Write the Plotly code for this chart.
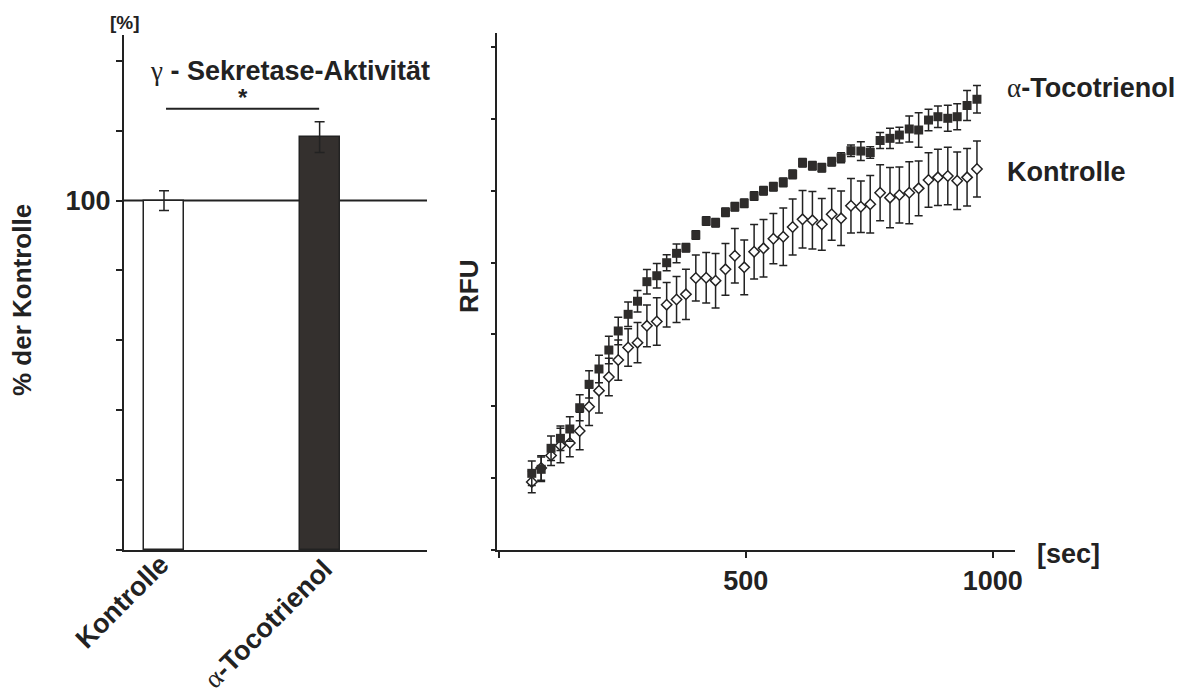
import plotly.graph_objects as go

# ---------------- left panel data ----------------
categories = ["Kontrolle", "α-Tocotrienol"]
bar_values = [100, 118.2]
bar_errors = [2.8, 4.4]
bar_colors = ["#ffffff", "#34302e"]

# ---------------- right panel data ----------------
time_sec = [67, 86, 106, 125, 144, 164, 183, 203, 223, 242, 262, 281, 300, 320, 340, 360,
            379, 399, 420, 439, 459, 478, 497, 517, 536, 556, 576, 595, 615, 635, 654, 674,
            693, 713, 733, 752, 772, 792, 811, 831, 850, 870, 889, 909, 928, 948, 968]

toco_rfu = [1067, 1123, 1415, 1554, 1684, 1980, 2306, 2519, 2783, 3048, 3280, 3462, 3734, 3817,
            3998, 4129, 4207, 4384, 4578, 4555, 4700, 4777, 4825, 4926, 5000, 5056, 5117, 5228,
            5390, 5348, 5320, 5404, 5459, 5557, 5552, 5532, 5699, 5729, 5775, 5859, 5845, 5984,
            6030, 6008, 6030, 6186, 6273]
toco_err = [170, 170, 170, 170, 170, 180, 190, 190, 190, 190, 170, 150, 170, 170, 110, 130,
            60, 60, 60, 60, 60, 60, 60, 60, 60, 60, 60, 60, 60, 60, 60, 60,
            70, 80, 130, 80, 110, 140, 110, 180, 240, 150, 150, 180, 180, 210, 190]

ctrl_rfu = [946, 1141, 1315, 1454, 1489, 1656, 1994, 2217, 2407, 2644, 2818, 2885, 3120, 3180,
            3414, 3486, 3558, 3785, 3789, 3748, 3906, 4095, 3934, 4151, 4198, 4332, 4360, 4495,
            4602, 4588, 4533, 4672, 4616, 4791, 4777, 4812, 4972, 4903, 4940, 4972, 5033, 5149,
            5186, 5205, 5139, 5186, 5302]
ctrl_err = [150, 170, 140, 240, 190, 260, 260, 310, 260, 280, 260, 280, 290, 330, 310, 320,
            350, 320, 350, 380, 360, 380, 380, 380, 400, 350, 400, 390, 400, 400, 360, 360,
            380, 380, 360, 400, 390, 420, 390, 430, 380, 380, 390, 400, 400, 400, 390]

left_yticks = [0, 20, 40, 60, 80, 100, 120, 140]
left_yticktext = ["", "", "", "", "", "100", "", ""]
right_yticks = [0, 1000, 2000, 3000, 4000, 5000, 6000, 7000]
right_xticks = [0, 500, 1000]
right_xticktext = ["", "500", "1000"]

INK = "#222222"
SANS = "Liberation Sans"
SERIF = "Liberation Serif"
OFF = 8                      # default page-body margin of the written HTML
W, H = 1184 - OFF, 691 - OFF


def px(x):
    return (x - OFF) / W


def py(y):
    return 1 - (y - OFF) / H


def greek(ch):
    return "<span style='font-family:%s;font-weight:normal'>%s</span>" % (SERIF, ch)


def label(name):
    if name.startswith("α"):
        return greek("α") + "<b>" + name[1:] + "</b>"
    return "<b>" + name + "</b>"


fig = go.Figure()

# bars
fig.add_trace(go.Bar(
    x=[0, 1], y=bar_values,
    width=0.257,
    marker=dict(color=bar_colors, line=dict(color=INK, width=1.5)),
    error_y=dict(type="data", array=bar_errors, color=INK, thickness=1.5, width=5),
    xaxis="x", yaxis="y", showlegend=False,
))

# control (open diamonds)
fig.add_trace(go.Scatter(
    x=time_sec, y=ctrl_rfu, mode="markers",
    marker=dict(symbol="diamond", size=8, color="#ffffff", line=dict(color=INK, width=1.5)),
    error_y=dict(type="data", array=ctrl_err, color=INK, thickness=1.5, width=4),
    xaxis="x2", yaxis="y2", showlegend=False,
))

# alpha-tocotrienol (filled squares)
fig.add_trace(go.Scatter(
    x=time_sec, y=toco_rfu, mode="markers",
    marker=dict(symbol="square", size=9, color="#2e2c2b", line=dict(width=0)),
    error_y=dict(type="data", array=toco_err, color=INK, thickness=1.5, width=4),
    xaxis="x2", yaxis="y2", showlegend=False,
))

axis_common = dict(showline=True, linecolor=INK, linewidth=2, showgrid=False, zeroline=False,
                   ticks="outside", tickcolor=INK, tickwidth=2, automargin=False)


def ann(text, x, y, size, **kw):
    d = dict(text=text, x=px(x), y=py(y), xref="paper", yref="paper", showarrow=False,
             xanchor="center", yanchor="middle", font=dict(size=size, color=INK, family=SANS))
    d.update(kw)
    return d


fig.update_layout(
    width=W, height=H,
    margin=dict(l=0, r=0, t=0, b=0, pad=0, autoexpand=False),
    paper_bgcolor="white", plot_bgcolor="white",
    font=dict(family=SANS, color=INK),
    bargap=0,
    xaxis=dict(
        domain=[px(124), px(427)], range=[-0.257, 1.69],
        showline=True, linecolor=INK, linewidth=2, showgrid=False, zeroline=False,
        ticks="", tickvals=[0, 1], showticklabels=False, automargin=False, anchor="y",
    ),
    yaxis=dict(
        domain=[py(550), py(35)], range=[0, 147.4],
        tickvals=left_yticks, ticktext=left_yticktext, ticklen=6,
        tickfont=dict(family=SANS, size=27, color=INK, weight="bold"),
        anchor="x", **axis_common,
    ),
    xaxis2=dict(
        domain=[px(497), px(1015)], range=[-3.4, 1045],
        tickvals=right_xticks, ticktext=right_xticktext, ticklen=6,
        tickfont=dict(family=SANS, size=27, color=INK, weight="bold"),
        anchor="y2", **axis_common,
    ),
    yaxis2=dict(
        domain=[py(550), py(33)], range=[0, 7195],
        tickvals=right_yticks, showticklabels=False, ticklen=4,
        anchor="x2", **axis_common,
    ),
    shapes=[
        # 100 % reference line
        dict(type="line", xref="x", yref="y", x0=-0.257, x1=1.69, y0=100, y1=100,
             line=dict(color=INK, width=2), layer="below"),
        # significance bracket
        dict(type="line", xref="x", yref="y", x0=0.013, x1=0.997, y0=126.3, y1=126.3,
             line=dict(color=INK, width=2)),
    ],
    annotations=[
        ann("<b>[%]</b>", 125, 23, 19),
        ann(greek("γ") + "<b> - Sekretase-Aktivität</b>", 290, 71, 27),
        ann("<b>*</b>", 243, 97, 24),
        ann("<b>% der Kontrolle</b>", 22, 300, 26, textangle=-90),
        ann("<b>RFU</b>", 469, 287, 26, textangle=-90),
        ann("<b>[sec]</b>", 1068, 554, 27),
        ann(label(categories[1]), 1005, 88, 27, xanchor="left"),
        ann(label(categories[0]), 1005, 172, 27, xanchor="left"),
        # rotated category labels under the bars
        ann(label(categories[0]), 122, 602, 27, textangle=-45),
        ann(label(categories[1]), 268, 624, 27, textangle=-45),
    ],
)

fig.write_html("out.html")
